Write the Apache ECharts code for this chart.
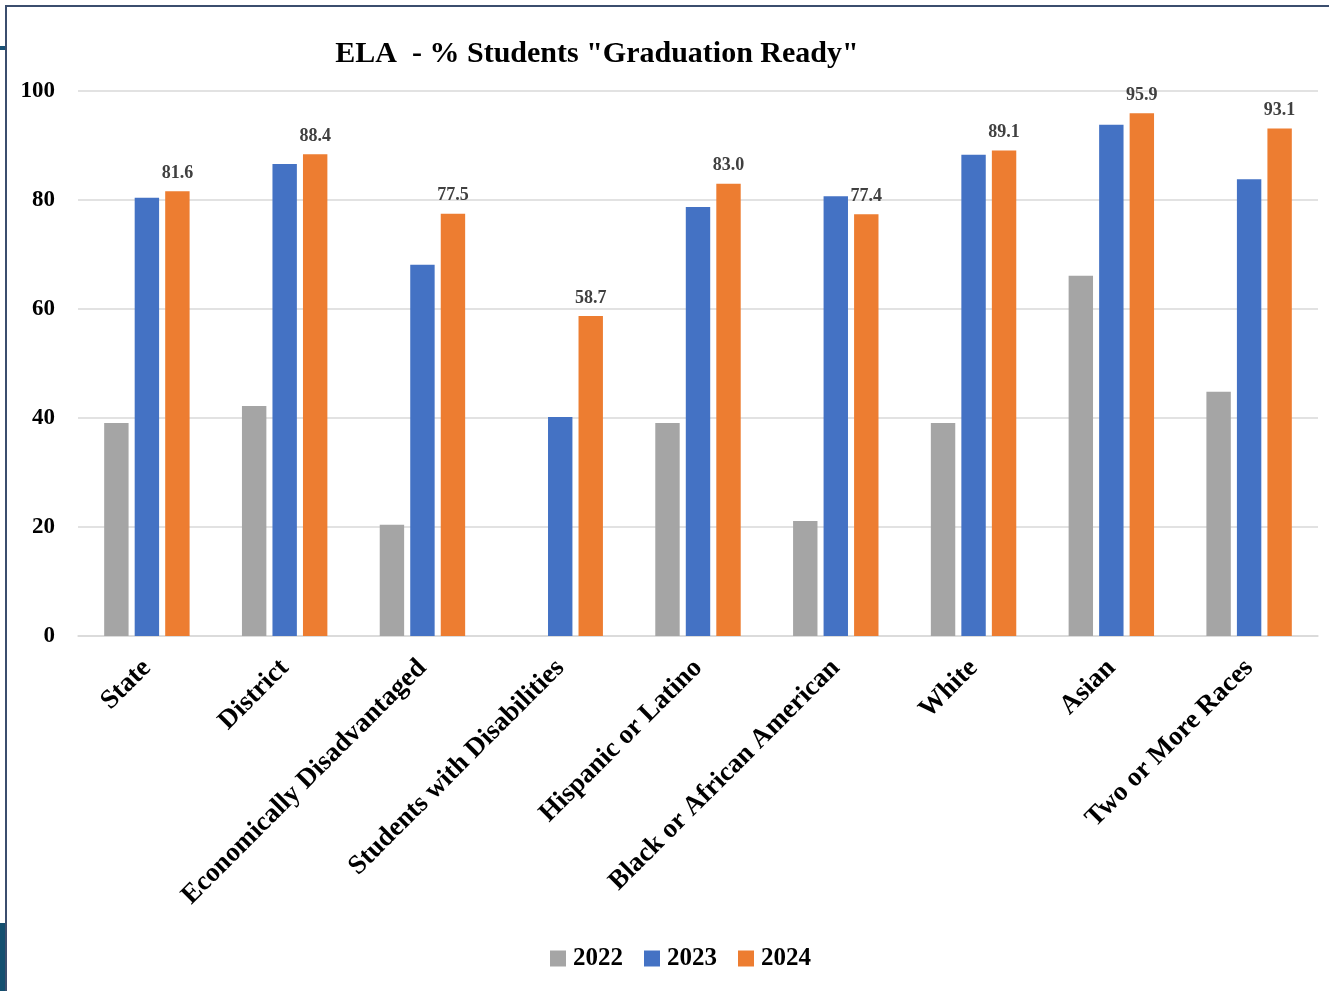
<!DOCTYPE html>
<html>
<head>
<meta charset="utf-8">
<script src="https://cdn.jsdelivr.net/npm/echarts@6/dist/echarts.min.js"></script>
<style>
html,body{margin:0;padding:0;background:#fff;}
#c{width:1329px;height:991px;}
</style>
</head>
<body>
<div id="c"></div>
<script>
const categories = ["State","District","Economically Disadvantaged","Students with Disabilities","Hispanic or Latino","Black or African American","White","Asian","Two or More Races"];
const seriesNames = ["2022","2023","2024"];
const values2022 = [39.1, 42.2, 20.4, null, 39.1, 21.1, 39.1, 66.1, 44.8];
const values2023 = [80.4, 86.6, 68.1, 40.2, 78.7, 80.7, 88.3, 93.8, 83.8];
const values2024 = [81.6, 88.4, 77.5, 58.7, 83.0, 77.4, 89.1, 95.9, 93.1];
const yTicks = [0, 20, 40, 60, 80, 100];

const FONT = '"Liberation Serif", "DejaVu Serif", serif';
const chart = echarts.init(document.getElementById('c'));
chart.setOption({
  animation: false,
  backgroundColor: '#fff',
  color: ['#a5a5a5', '#4472c4', '#ed7d31'],
  title: {
    text: 'ELA  - % Students "Graduation Ready"',
    left: 592, top: 34, textAlign: 'center',
    textStyle: {fontFamily: FONT, fontWeight: 'bold', fontSize: 30, color: '#000'}
  },
  legend: {
    data: seriesNames,
    left: 545, top: 941,
    itemWidth: 16, itemHeight: 16, itemGap: 21,
    icon: 'rect',
    textStyle: {fontFamily: FONT, fontWeight: 'bold', fontSize: 25, color: '#000', padding: [0,0,0,2]}
  },
  grid: {left: 78, right: 11, top: 91, bottom: 355, containLabel: false},
  xAxis: {
    type: 'category', data: categories,
    axisLine: {show: true, lineStyle: {color: '#d9d9d9', width: 1.5}},
    axisTick: {show: false},
    axisLabel: {interval: 0, rotate: 45, margin: 28, fontFamily: FONT, fontWeight: 'bold', fontSize: 27, color: '#000'}
  },
  yAxis: {
    type: 'value', min: yTicks[0], max: yTicks[yTicks.length-1], interval: 20,
    axisLine: {show: false}, axisTick: {show: false},
    axisLabel: {margin: 23, fontFamily: FONT, fontWeight: 'bold', fontSize: 23, color: '#000'},
    splitLine: {lineStyle: {color: '#d9d9d9', width: 1.5}}
  },
  series: [
    {name: seriesNames[0], type: 'bar', data: values2022, barGap: '25%', barCategoryGap: '38%'},
    {name: seriesNames[1], type: 'bar', data: values2023, barGap: '25%', barCategoryGap: '38%'},
    {name: seriesNames[2], type: 'bar', data: values2024, barGap: '25%', barCategoryGap: '38%',
      label: {show: true, position: 'top', distance: 9, formatter: p => p.value.toFixed(1),
        fontFamily: FONT, fontWeight: 'bold', fontSize: 18, color: '#404040'}}
  ],
  graphic: [
    {type: 'rect', shape: {x: 5, y: 5, width: 1324, height: 2}, style: {fill: '#3b4e6e'}},
    {type: 'rect', shape: {x: 5, y: 5, width: 2, height: 986}, style: {fill: '#3b4e6e'}},
    {type: 'rect', shape: {x: 0, y: 46, width: 5, height: 4}, style: {fill: '#1a5276'}},
    {type: 'rect', shape: {x: 0, y: 923, width: 5, height: 68}, style: {fill: '#134f6f'}}
  ]
});
</script>
</body>
</html>
